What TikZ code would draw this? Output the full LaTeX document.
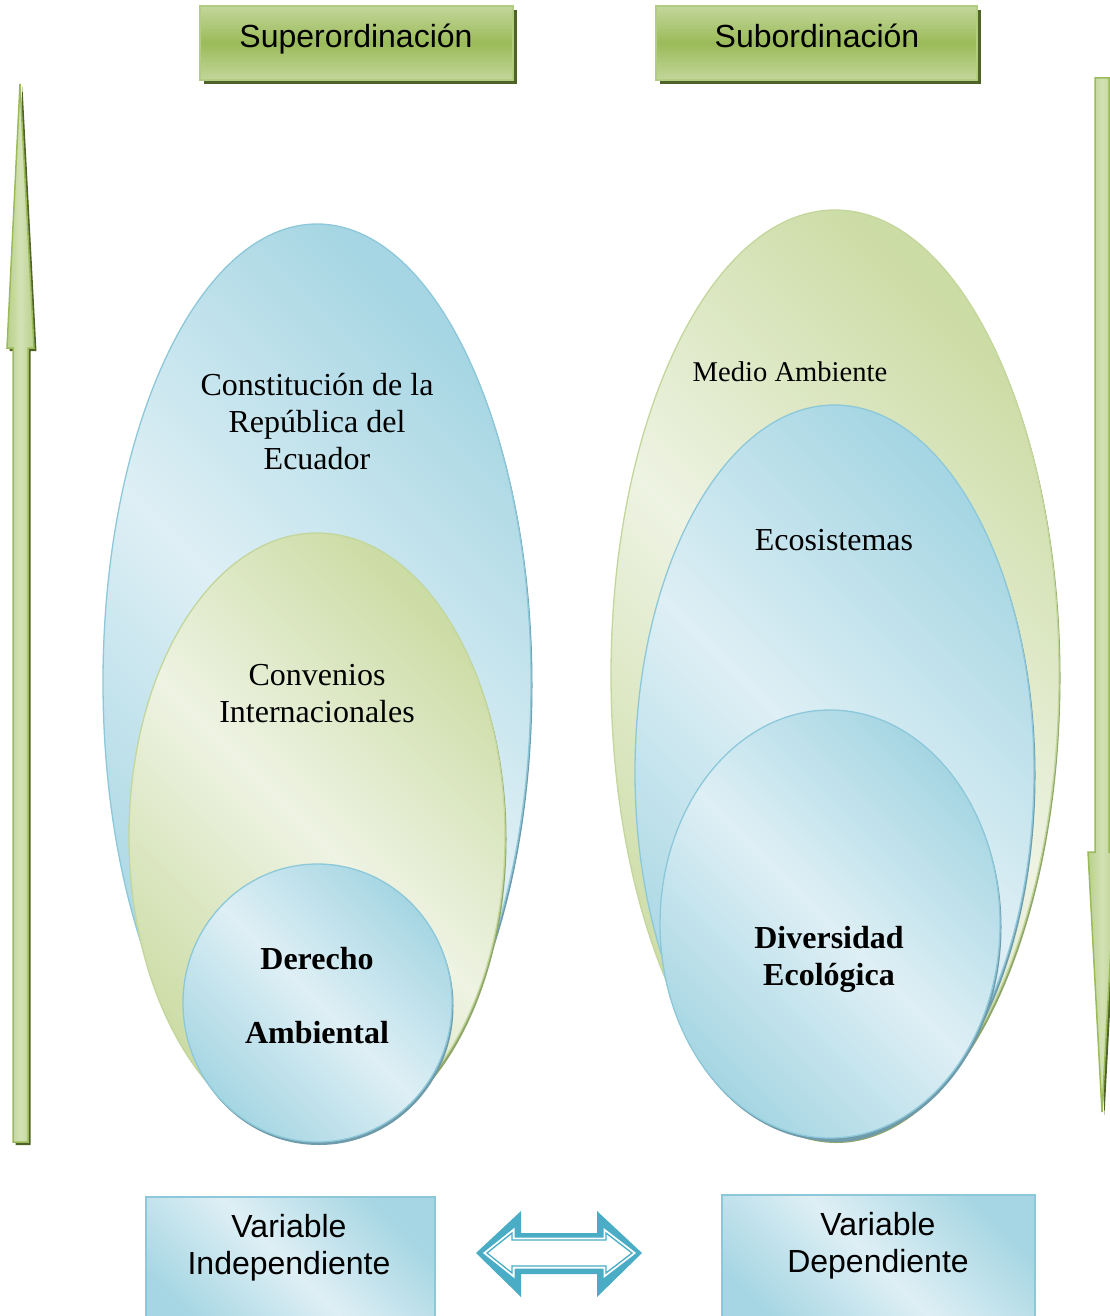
\documentclass[tikz,border=0pt]{standalone}
\usepackage{fontspec}
\setmainfont{Liberation Serif}
\newfontfamily\arialf{Liberation Sans}
\usetikzlibrary{shapes.geometric}
\definecolor{blueL}{HTML}{DEEFF5}
\definecolor{blueD}{HTML}{A6D6E3}
\definecolor{blueB}{HTML}{8CC8D9}
\definecolor{blueS}{HTML}{6F9AAA}
\definecolor{grnL}{HTML}{EEF3E3}
\definecolor{grnD}{HTML}{CCDCA5}
\definecolor{grnB}{HTML}{C3D69B}
\definecolor{grnS}{HTML}{8FA66A}
\definecolor{boxT}{HTML}{C3D69B}
\definecolor{boxM}{HTML}{9BBB59}
\definecolor{boxB}{HTML}{B2CC82}
\definecolor{olive}{HTML}{4F6228}
\definecolor{arrF}{HTML}{C0D596}
\definecolor{arrB}{HTML}{9BBB59}
\definecolor{teal}{HTML}{4BACC6}
\begin{document}
\begin{tikzpicture}[x=1pt,y=-1pt,
  blueov/.style={ellipse, inner sep=0pt, draw=blueB, line width=1.3pt,
    top color=blueD, bottom color=blueD, middle color=blueL, shading angle=135},
  greenov/.style={ellipse, inner sep=0pt, draw=grnB, line width=1.3pt,
    top color=grnD, bottom color=grnD, middle color=grnL, shading angle=135},
  ovshadow/.style={ellipse, inner sep=0pt, fill=#1},
  topbox/.style={rectangle, inner sep=0pt, draw=boxB, line width=2pt,
    top color=boxT, bottom color=boxT, middle color=boxM},
  boxshadow/.style={rectangle, inner sep=0pt, fill=#1},
  botbox/.style={rectangle, inner sep=0pt, draw=blueB, line width=2pt,
    top color=blueD, bottom color=blueD, middle color=blueL, shading angle=135},
  vararrow/.style={draw=arrB, line width=1.5pt, left color=arrF!80!arrB, right color=arrF!80!arrB, middle color=arrF!70!white},
  sertext/.style={align=center, font=\fontsize{32}{37}\selectfont},
  boldtext/.style={align=center, font=\bfseries\fontsize{32}{37}\selectfont},
  sanstext/.style={align=center, font=\arialf\fontsize{32}{37}\selectfont}]
\useasboundingbox (0,0) rectangle (1110,1316);
\clip (0,0) rectangle (1110,1316);

% vertical arrows (shadow, then arrow)
\fill[olive] (22.5,87) -- (36.5,351) -- (30.5,351) -- (30.5,1145) -- (15.5,1145) -- (15.5,351) -- (9.5,351) -- cycle;
\path[vararrow] (20,84) -- (34,348) -- (28,348) -- (28,1142) -- (13,1142) -- (13,348) -- (7,348) -- cycle;
\fill[olive] (1097.5,81) -- (1111.5,81) -- (1111.5,855) -- (1118.5,855) -- (1104.5,1115) -- (1090.5,855) -- (1097.5,855) -- cycle;
\path[vararrow] (1095,78) -- (1109,78) -- (1109,852) -- (1116,852) -- (1102,1112) -- (1088,852) -- (1095,852) -- cycle;

% top boxes
\node[boxshadow=olive, minimum width=313pt, minimum height=74pt] (supS) at (360.5,47) {};
\node[topbox, minimum width=313pt, minimum height=74pt] (sup) at (356.5,43) {};
\node[sanstext, anchor=base] (tsup) at (356,48) {Superordinación};
\node[boxshadow=olive, minimum width=321pt, minimum height=74pt] (subS) at (820.5,47) {};
\node[topbox, minimum width=321pt, minimum height=74pt] (sub) at (816.5,43) {};
\node[sanstext, anchor=base] (tsub) at (817,48) {Subordinación};

% left ellipses
\node[ovshadow=blueS, minimum width=428pt, minimum height=916pt] (constS) at (318.5,685) {};
\node[blueov, minimum width=428pt, minimum height=916pt] (const) at (317,682) {};
\node[ovshadow=grnS, minimum width=376pt, minimum height=606pt] (convS) at (318.5,839) {};
\node[greenov, minimum width=376pt, minimum height=606pt] (conv) at (317,836) {};
\node[ovshadow=blueS, minimum width=269pt, minimum height=278pt] (derS) at (319,1006) {};
\node[blueov, minimum width=269pt, minimum height=278pt] (der) at (317.5,1003) {};
\node[sertext] (tconst) at (317,422) {Constitución de la\\República del\\Ecuador};
\node[sertext] (tconv) at (317,694) {Convenios\\Internacionales};
\node[boldtext, font=\bfseries\fontsize{32}{74}\selectfont] (tder) at (317,996) {Derecho\\Ambiental};

% right ellipses
\node[ovshadow=grnS, minimum width=448pt, minimum height=930pt] (medioS) at (836.5,678) {};
\node[greenov, minimum width=448pt, minimum height=930pt] (medio) at (835,675) {};
\node[ovshadow=blueS, minimum width=399pt, minimum height=734pt] (ecoS) at (836,775) {};
\node[blueov, minimum width=399pt, minimum height=734pt] (eco) at (834.5,772) {};
\node[ovshadow=blueS, minimum width=340pt, minimum height=428pt] (divS) at (831.5,927) {};
\node[blueov, minimum width=340pt, minimum height=428pt] (div) at (830,924) {};
\node[sertext, font=\fontsize{28.6}{34}\selectfont] (tmedio) at (790,372) {Medio Ambiente};
\node[sertext] (teco) at (834,540) {Ecosistemas};
\node[boldtext] (tdiv) at (829,959.5) {Diversidad\\Ecológica};

% bottom boxes
\node[boxshadow=blueS!70, minimum width=289pt, minimum height=140pt, anchor=north west] (viS) at (147,1198) {};
\node[botbox, minimum width=289pt, minimum height=140pt, anchor=north west] (vi) at (145,1196) {};
\node[boxshadow=blueS!70, minimum width=313pt, minimum height=140pt, anchor=north west] (vdS) at (723,1196) {};
\node[botbox, minimum width=313pt, minimum height=140pt, anchor=north west] (vd) at (721,1194) {};
\node[sanstext] (tvi) at (289,1248) {Variable\\Independiente};
\node[sanstext] (tvd) at (878,1246) {Variable\\Dependiente};

% double arrow
\fill[teal] (476,1253) -- (521,1211) -- (521,1233) -- (597,1233) -- (597,1211) -- (642,1253)
  -- (597,1297) -- (597,1274) -- (521,1274) -- (521,1297) -- cycle;
\draw[white, fill=white, line width=5pt, line join=miter]
  (487,1253) -- (512,1233) -- (512,1240) -- (606,1240) -- (606,1233) -- (632,1253)
  -- (606,1273) -- (606,1266) -- (512,1266) -- (512,1273) -- cycle;
\draw[teal, line width=1.3pt, line join=miter]
  (487,1253) -- (512,1233) -- (512,1240) -- (606,1240) -- (606,1233) -- (632,1253)
  -- (606,1273) -- (606,1266) -- (512,1266) -- (512,1273) -- cycle;
\end{tikzpicture}
\end{document}
